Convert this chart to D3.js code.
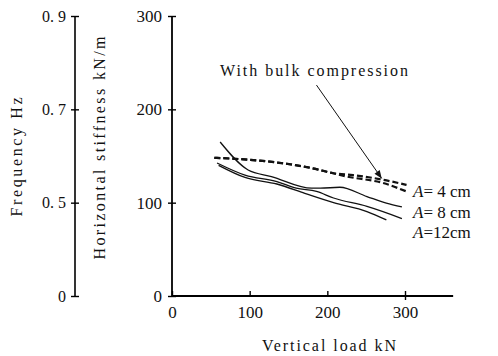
<!DOCTYPE html>
<html>
<head>
<meta charset="utf-8">
<script src="https://cdn.jsdelivr.net/npm/d3@7"></script>
<style>
  body { margin: 0; background: #fff; }
</style>
</head>
<body>
<svg id="chart" width="498" height="356"></svg>
<script>
// data (vertical load kN, stiffness kN/m)
const loadTicks = [0, 100, 200, 300];
const stiffTicks = [0, 100, 200, 300];
const freqTicks = [0, 0.5, 0.7, 0.9];
const freqLabels = ["0", "0. 5", "0. 7", "0. 9"];

const curveA4 = [[62, 165], [98, 135], [128, 128], [180, 115.5], [191, 115.5], [216, 116.5], [251, 106.5], [276, 99.5], [296, 95.5]];
const curveA8 = [[58, 142.5], [94, 129.5], [135, 122.5], [160, 115.5], [186, 112], [208, 105], [251, 96], [296, 83]];
const curveA12 = [[60, 140], [94, 127], [135, 120], [171, 110], [208, 100], [251, 90.5], [276, 81.5]];
const bulkUpper = [[54.5, 148], [81, 147], [180, 137], [208, 131.5], [233, 129.5], [272, 124.5], [302, 119]];
const bulkLower = [[54.5, 148], [81, 147], [180, 137], [225, 128], [272, 121], [302, 112]];

const curveLabels = ["= 4 cm", "= 8 cm", "=12cm"];
const curveLabelY = [191, 212, 232]; // pixel rows for the "A =" labels

// arrow from the annotation text to the dashed curves (data units)
const arrowFrom = [186, 226];
const arrowTo = [270, 126];

const serif = "'Liberation Serif', 'DejaVu Serif', serif";
const svg = d3.select("#chart").style("font-family", serif);

// scales
const x = d3.scaleLinear().domain([0, 300]).range([172, 405]);
const y = d3.scaleLinear().domain([0, 300]).range([296, 16]);
const yFreq = d3.scaleLinear().domain(freqTicks).range(stiffTicks.map(d => y(d)));

function styleTicks(g, size) {
  g.attr("font-family", null).attr("font-size", null);
  g.selectAll(".tick text").style("font-family", serif).style("font-size", size + "px").attr("fill", "#111");
}

// frequency axis (left)
const freqAxis = svg.append("g")
  .attr("transform", "translate(75,0)")
  .call(d3.axisLeft(yFreq).tickValues(freqTicks).tickFormat((d, i) => freqLabels[i]).tickSize(4).tickPadding(5));
freqAxis.select(".domain").attr("d", "M0," + y(0) + "V" + y(300)).attr("stroke-width", 1.6);
freqAxis.selectAll(".tick line").attr("x1", -4).attr("x2", 4).attr("stroke-width", 1.4);
styleTicks(freqAxis, 16);

// stiffness axis
const yAxis = svg.append("g")
  .attr("transform", "translate(172,0)")
  .call(d3.axisLeft(y).tickValues(stiffTicks).tickSize(4).tickPadding(6));
yAxis.select(".domain").attr("d", "M0," + y(0) + "V" + y(300)).attr("stroke-width", 1.8);
yAxis.selectAll(".tick line").attr("x1", -4).attr("x2", 4).attr("stroke-width", 1.4);
styleTicks(yAxis, 17);

// load axis
const xAxis = svg.append("g")
  .attr("transform", "translate(0,296)")
  .call(d3.axisBottom(x).tickValues(loadTicks).tickSize(-5).tickPadding(10));
xAxis.select(".domain").attr("d", "M" + x(0) + ",0H" + x(362)).attr("stroke-width", 1.8);
xAxis.selectAll(".tick line").attr("stroke-width", 1.4);
xAxis.selectAll(".tick").filter(d => d === 300).select("line").attr("y1", 4);
styleTicks(xAxis, 17);

// axis titles
function title(sel) {
  return sel.style("font-family", serif).style("font-size", "16px").attr("fill", "#111");
}

svg.append("text")
  .attr("transform", "translate(22,157) rotate(-90)")
  .attr("text-anchor", "middle")
  .attr("textLength", 119).attr("lengthAdjust", "spacing")
  .call(title)
  .text("Frequency Hz");

svg.append("text")
  .attr("transform", "translate(105,148) rotate(-90)")
  .attr("text-anchor", "middle")
  .attr("textLength", 223).attr("lengthAdjust", "spacing")
  .call(title)
  .text("Horizontal stiffness kN/m");

svg.append("text")
  .attr("x", 262).attr("y", 351)
  .attr("textLength", 134).attr("lengthAdjust", "spacing")
  .call(title)
  .text("Vertical load kN");

// curves
const line = d3.line().x(d => x(d[0])).y(d => y(d[1])).curve(d3.curveMonotoneX);

[curveA4, curveA8, curveA12].forEach(c => {
  svg.append("path").datum(c)
    .attr("d", line)
    .attr("fill", "none").attr("stroke", "#111").attr("stroke-width", 1.3);
});

[bulkUpper, bulkLower].forEach(c => {
  svg.append("path").datum(c)
    .attr("d", line)
    .attr("fill", "none").attr("stroke", "#111").attr("stroke-width", 2.2)
    .attr("stroke-dasharray", "6,3");
});

// curve labels
curveLabels.forEach((t, i) => {
  const lbl = svg.append("text")
    .attr("x", 413).attr("y", curveLabelY[i] + 6)
    .call(title).style("font-size", "17px");
  lbl.append("tspan").style("font-style", "italic").text("A");
  lbl.append("tspan").text(t);
});

// annotation
svg.append("defs").append("marker")
  .attr("id", "arrowhead")
  .attr("viewBox", "0 0 10 10").attr("refX", 10).attr("refY", 5)
  .attr("markerWidth", 10).attr("markerHeight", 8).attr("markerUnits", "userSpaceOnUse")
  .attr("orient", "auto")
  .append("path").attr("d", "M0,1L10,5L0,9Z").attr("fill", "#111");

svg.append("line")
  .attr("x1", x(arrowFrom[0])).attr("y1", y(arrowFrom[1]))
  .attr("x2", x(arrowTo[0])).attr("y2", y(arrowTo[1]))
  .attr("stroke", "#111").attr("stroke-width", 1)
  .attr("marker-end", "url(#arrowhead)");

svg.append("text")
  .attr("x", 220).attr("y", 76)
  .attr("textLength", 188).attr("lengthAdjust", "spacing")
  .call(title)
  .text("With bulk compression");
</script>
</body>
</html>
